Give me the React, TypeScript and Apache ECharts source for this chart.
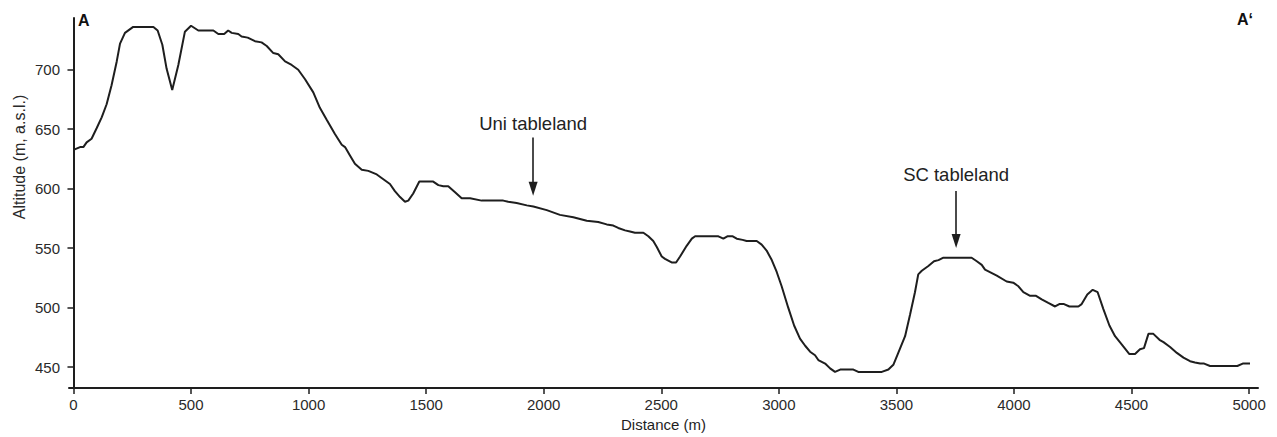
import React, { useEffect, useRef } from "react";
import * as echarts from "echarts";

// Profile A – A' : distance along profile (m) and altitude (m a.s.l.)
const distances = [
  5, 28, 42, 56, 77, 99, 120, 141, 162, 184, 198, 219, 254, 340, 358, 378, 396, 420, 446, 474,
  500, 531, 595, 616, 641, 658, 673, 701, 715, 741, 772, 800, 822, 850, 871, 900, 928, 956, 985, 1020,
  1048, 1077, 1112, 1141, 1155, 1176, 1197, 1226, 1254, 1290, 1318, 1346, 1367, 1389, 1410, 1424, 1445, 1471, 1530, 1552,
  1573, 1594, 1623, 1651, 1687, 1736, 1828, 1849, 1885, 1928, 1956, 2013, 2069, 2126, 2183, 2232, 2268, 2296, 2317, 2346,
  2367, 2388, 2424, 2445, 2466, 2481, 2502, 2516, 2544, 2563, 2580, 2608, 2630, 2644, 2743, 2764, 2781, 2804, 2821, 2846,
  2863, 2906, 2927, 2948, 2970, 2991, 3012, 3040, 3065, 3090, 3112, 3133, 3154, 3168, 3197, 3218, 3239, 3261, 3317, 3338,
  3438, 3466, 3487, 3508, 3537, 3558, 3579, 3593, 3608, 3636, 3660, 3679, 3700, 3820, 3842, 3863, 3877, 3927, 3969, 3997,
  4019, 4040, 4069, 4094, 4118, 4146, 4175, 4193, 4213, 4236, 4274, 4288, 4312, 4335, 4356, 4380, 4406, 4430, 4459, 4491,
  4515, 4536, 4553, 4572, 4593, 4619, 4636, 4664, 4693, 4721, 4749, 4770, 4792, 4809, 4834, 4950, 4973, 5004,
];
const altitudes = [
  633, 635, 635, 639, 642, 651, 660, 671, 687, 707, 722, 731, 736, 736, 733, 721, 701, 683, 704, 732,
  737, 733, 733, 730, 730, 733, 731, 730, 728, 727, 724, 723, 720, 714, 713, 707, 704, 700, 692, 681,
  668, 658, 646, 637, 635, 628, 621, 616, 615, 612, 608, 604, 598, 593, 589, 590, 596, 606, 606, 603,
  602, 602, 597, 592, 592, 590, 590, 589, 588, 586, 585, 582, 578, 576, 573, 572, 570, 569, 567, 565,
  564, 563, 563, 560, 556, 551, 543, 541, 538, 538, 543, 552, 558, 560, 560, 558, 560, 560, 558, 557,
  556, 556, 553, 548, 540, 530, 518, 500, 485, 474, 468, 463, 460, 456, 453, 449, 446, 448, 448, 446,
  446, 448, 452, 462, 476, 494, 513, 528, 531, 535, 539, 540, 542, 542, 539, 536, 532, 527, 522, 521,
  518, 513, 510, 510, 507, 504, 501, 503, 503, 501, 501, 503, 511, 515, 513, 499, 485, 476, 469, 461,
  461, 465, 466, 478, 478, 473, 471, 467, 462, 458, 455, 454, 453, 453, 451, 451, 453, 453,
];

const xTicks = [0, 500, 1000, 1500, 2000, 2500, 3000, 3500, 4000, 4500, 5000];
const yTicks = [450, 500, 550, 600, 650, 700];

// Annotations (arrows pointing at the tablelands)
const annotationNames = ["Uni tableland", "SC tableland"];
const annotationDistance = [1955, 3754];
const annotationLabelAlt = [655, 612];
const arrowTopAlt = [643, 598];
const arrowEndAlt = [600, 556];

const FONT = "'Liberation Sans', Arial, Helvetica, sans-serif";
const INK = "#1e1e1e";

export default function App() {
  const ref = useRef<HTMLDivElement>(null);

  useEffect(() => {
    document.body.style.margin = "0";
    if (!ref.current) return;
    const chart = echarts.init(ref.current, undefined, { renderer: "svg" });

    const lineData = distances.map((d, i) => [d, altitudes[i]]);

    chart.setOption({
      animation: false,
      backgroundColor: "#ffffff",
      textStyle: { fontFamily: FONT },
      grid: { left: 69, right: 19, top: 18, bottom: 47, containLabel: false },
      xAxis: {
        type: "value",
        min: -19,
        max: 5038,
        name: "Distance (m)",
        nameLocation: "middle",
        nameGap: 27,
        nameTextStyle: { color: INK, fontSize: 15, fontFamily: FONT },
        axisLine: { show: true, lineStyle: { color: INK, width: 2 } },
        axisTick: {
          show: true,
          inside: false,
          length: 6,
          customValues: xTicks,
          lineStyle: { color: INK, width: 1.5 },
        },
        axisLabel: {
          customValues: xTicks,
          formatter: (v: number) => String(v),
          color: "#2a2a2a",
          fontSize: 15,
          margin: 9,
          fontFamily: FONT,
        },
        splitLine: { show: false },
      },
      yAxis: {
        type: "value",
        min: 432.4,
        max: 743.5,
        axisLine: { show: true, lineStyle: { color: INK, width: 2 } },
        axisTick: {
          show: true,
          inside: false,
          length: 6,
          customValues: yTicks,
          lineStyle: { color: INK, width: 1.5 },
        },
        axisLabel: {
          customValues: yTicks,
          formatter: (v: number) => String(v),
          color: "#2a2a2a",
          fontSize: 15,
          margin: 9,
          fontFamily: FONT,
        },
        splitLine: { show: false },
      },
      graphic: [
        {
          type: "text",
          x: 19,
          y: 157,
          rotation: Math.PI / 2,
          style: {
            text: "Altitude (m, a.s.l.)",
            fill: "#2a2a2a",
            fontSize: 16,
            fontFamily: FONT,
            align: "center",
            verticalAlign: "middle",
          },
        },
        {
          type: "text",
          x: 78,
          y: 20,
          style: {
            text: "A",
            fill: "#111",
            fontSize: 16,
            fontWeight: "bold",
            fontFamily: FONT,
            align: "left",
            verticalAlign: "middle",
          },
        },
        {
          type: "text",
          x: 1237,
          y: 19,
          style: {
            text: "A\u2018",
            fill: "#111",
            fontSize: 16,
            fontWeight: "bold",
            fontFamily: FONT,
            align: "left",
            verticalAlign: "middle",
          },
        },
      ],
      series: [
        {
          type: "line",
          data: lineData,
          showSymbol: false,
          symbol: "none",
          lineStyle: { color: INK, width: 2 },
          silent: true,
          markLine: {
            silent: true,
            symbol: ["none", "triangle"],
            symbolSize: [9, 14],
            lineStyle: { color: INK, width: 1.6, type: "solid" },
            label: { show: false },
            emphasis: { disabled: true },
            data: annotationNames.map((_, i) => [
              { coord: [annotationDistance[i], arrowTopAlt[i]] },
              { coord: [annotationDistance[i], arrowEndAlt[i]] },
            ]),
          },
          markPoint: {
            silent: true,
            symbol: "circle",
            symbolSize: 1,
            itemStyle: { color: "rgba(0,0,0,0)" },
            label: {
              show: true,
              position: "inside",
              formatter: "{b}",
              color: "#222",
              fontSize: 18.5,
              fontFamily: FONT,
            },
            data: annotationNames.map((name, i) => ({
              name,
              coord: [annotationDistance[i], annotationLabelAlt[i]],
            })),
          },
        },
      ],
    });

    return () => chart.dispose();
  }, []);

  return <div ref={ref} style={{ width: 1277, height: 437 }} />;
}
